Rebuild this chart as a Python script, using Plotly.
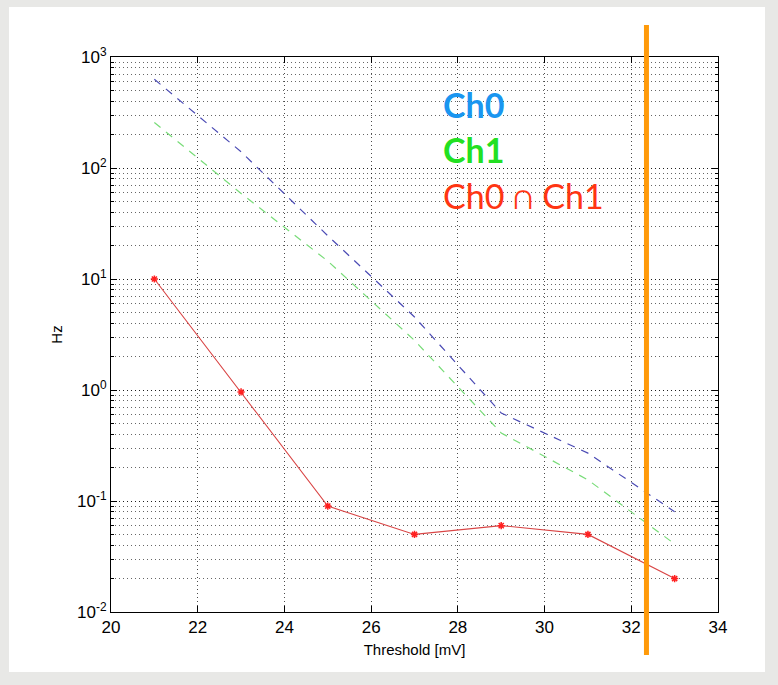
import plotly.graph_objects as go

# ---- data ----
threshold = [21, 23, 25, 27, 29, 31, 33]
ch0 = [630, 140, 24.5, 4.55, 0.62, 0.27, 0.08]
ch1 = [257, 59, 14.5, 2.8, 0.41, 0.155, 0.041]
ch0_and_ch1 = [10, 0.96, 0.09, 0.05, 0.06, 0.05, 0.02]
cut_threshold = 32.35
x_ticks = [20, 22, 24, 26, 28, 30, 32, 34]
y_tickvals = [0.01, 0.1, 1, 10, 100, 1000]
y_ticktext = ["10<sup>-2</sup>", "10<sup>-1</sup>", "10<sup>0</sup>",
              "10<sup>1</sup>", "10<sup>2</sup>", "10<sup>3</sup>"]
legend_labels = ["<b>Ch0</b>", "<b>Ch1</b>", "Ch0 \u2229 Ch1"]
legend_colors = ["#1a96f0", "#22e022", "#ff3512"]

W, H = 778, 685
L, R, T, B = 111, 60, 57, 73
pw, ph = W - L - R, H - T - B

def px_x(p):
    return (p - L) / pw

def px_y(p):
    return (H - B - p) / ph

fig = go.Figure()

fig.add_trace(go.Scatter(x=threshold, y=ch0, mode="lines",
                         line=dict(color="#4a4ab4", width=1.2, dash="8px,7px"),
                         showlegend=False))
fig.add_trace(go.Scatter(x=threshold, y=ch1, mode="lines",
                         line=dict(color="#78dc78", width=1.2, dash="8px,7px"),
                         showlegend=False))
fig.add_trace(go.Scatter(x=threshold, y=ch0_and_ch1, mode="lines+markers",
                         line=dict(color="#d94545", width=1.1),
                         marker=dict(symbol="asterisk-open", size=6,
                                     color="#ff2020",
                                     line=dict(color="#ff2020", width=1.5)),
                         showlegend=False))

# white panel on grey page
fig.add_shape(type="rect", xref="paper", yref="paper",
              x0=px_x(9), x1=px_x(765), y0=px_y(672), y1=px_y(7),
              fillcolor="white", line=dict(width=0), layer="below")

# orange threshold line
fig.add_shape(type="line", xref="x", yref="paper",
              x0=cut_threshold, x1=cut_threshold, y0=px_y(655), y1=px_y(25),
              line=dict(color="#ff9a0a", width=5), layer="above")

for i, (lab, col) in enumerate(zip(legend_labels, legend_colors)):
    fig.add_annotation(xref="paper", yref="paper", x=px_x(441),
                       y=px_y(104 + 45.5 * i), text=lab, showarrow=False,
                       xanchor="left", yanchor="middle",
                       font=dict(family="Lato", size=34, color=col))

axis_common = dict(showline=True, linecolor="black", linewidth=1,
                   mirror="allticks", ticks="inside", ticklen=6,
                   tickcolor="black", showgrid=True, gridcolor="rgba(0,0,0,0.7)",
                   griddash="1px,3px", gridwidth=1, zeroline=False,
                   tickfont=dict(family="Liberation Sans", size=17, color="black"))

fig.update_xaxes(range=[20, 34], tickvals=x_ticks,
                 title=dict(text="Threshold [mV]", standoff=8,
                            font=dict(family="Liberation Sans", size=15, color="black")),
                 **axis_common)
fig.update_yaxes(type="log", range=[-2, 3], tickvals=y_tickvals, ticktext=y_ticktext,
                 title=dict(text="Hz", standoff=10,
                            font=dict(family="Liberation Sans", size=15, color="black")),
                 minor=dict(dtick="D1", showgrid=True, gridcolor="rgba(0,0,0,0.6)",
                            griddash="1px,3px", ticks="inside", ticklen=3,
                            tickcolor="black"),
                 **axis_common)

fig.update_layout(width=W, height=H, margin=dict(l=L, r=R, t=T, b=B),
                  paper_bgcolor="#e8e8e6", plot_bgcolor="white",
                  showlegend=False)

fig.write_html("out.html")
